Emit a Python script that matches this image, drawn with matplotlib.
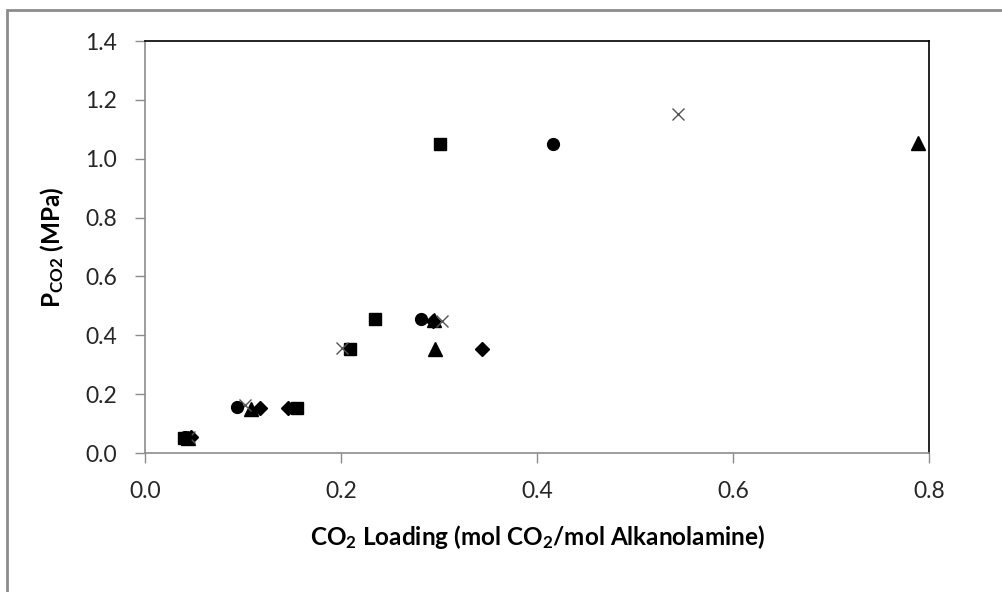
import matplotlib
matplotlib.use("Agg")
import matplotlib.pyplot as plt
from matplotlib.patches import Rectangle

plt.rcParams['font.family'] = ['Lato', 'DejaVu Sans']
plt.rcParams['mathtext.default'] = 'regular'

# Data (CO2 loading, P_CO2 in MPa)
diamond_x = [0.047, 0.117, 0.146, 0.344, 0.294]
diamond_y = [0.055, 0.153, 0.153, 0.355, 0.450]
square_x = [0.040, 0.155, 0.209, 0.235, 0.301]
square_y = [0.052, 0.153, 0.353, 0.455, 1.050]
triangle_x = [0.044, 0.108, 0.296, 0.295, 0.789]
triangle_y = [0.052, 0.150, 0.352, 0.452, 1.053]
cross_x = [0.045, 0.102, 0.201, 0.303, 0.544]
cross_y = [0.055, 0.163, 0.357, 0.450, 1.153]
circle_x = [0.041, 0.094, 0.282, 0.416]
circle_y = [0.054, 0.156, 0.456, 1.050]

xticks = [0.0, 0.2, 0.4, 0.6, 0.8]
yticks = [0.0, 0.2, 0.4, 0.6, 0.8, 1.0, 1.2, 1.4]

W, H = 1003, 592
fig = plt.figure(figsize=(W / 100, H / 100), dpi=100)

# outer chart frame (gray), right and bottom edges run off the canvas
fig.patches.append(Rectangle((7 / W, -0.2), 1.2, (H - 10) / H + 0.2, transform=fig.transFigure,
                             fill=False, edgecolor='#8c8c8c', linewidth=2.0, zorder=0))

ax = fig.add_axes([145 / W, (H - 453) / H, (929 - 145) / W, (453 - 41) / H])

ms = 8.5
ax.plot(diamond_x, diamond_y, linestyle='none', marker='D', markersize=7, color='black')
ax.plot(square_x, square_y, linestyle='none', marker='s', markersize=ms, color='black')
ax.plot(triangle_x, triangle_y, linestyle='none', marker='^', markersize=ms + 1, color='black')
ax.plot(cross_x, cross_y, linestyle='none', marker='x', markersize=ms, color='#555555',
        markeredgewidth=1.0)
ax.plot(circle_x, circle_y, linestyle='none', marker='o', markersize=ms, color='black')

ax.set_xlim(0, 0.8)
ax.set_ylim(0, 1.4)
ax.set_xticks(xticks)
ax.set_yticks(yticks)
ax.set_xticklabels([f'{v:.1f}' for v in xticks])
ax.set_yticklabels([f'{v:.1f}' for v in yticks])

for s in ['left', 'bottom']:
    ax.spines[s].set_color('#8c8c8c')
    ax.spines[s].set_linewidth(1.2)
for s in ['top', 'right']:
    ax.spines[s].set_color('black')
    ax.spines[s].set_linewidth(1.2)

ax.tick_params(axis='both', direction='out', length=7, width=1.0, color='#8c8c8c',
               labelsize=16.5, labelcolor='#262626')
ax.tick_params(axis='x', pad=13)
ax.tick_params(axis='y', pad=13)

ax.set_xlabel(r'CO$_2$ Loading (mol CO$_2$/mol Alkanolamine)', fontsize=17.5,
              fontweight='bold', labelpad=15)
ax.set_ylabel(r'P$_{CO2}$ (MPa)', fontsize=17.5, fontweight='bold', labelpad=14)

fig.savefig('out.png', dpi=100)
